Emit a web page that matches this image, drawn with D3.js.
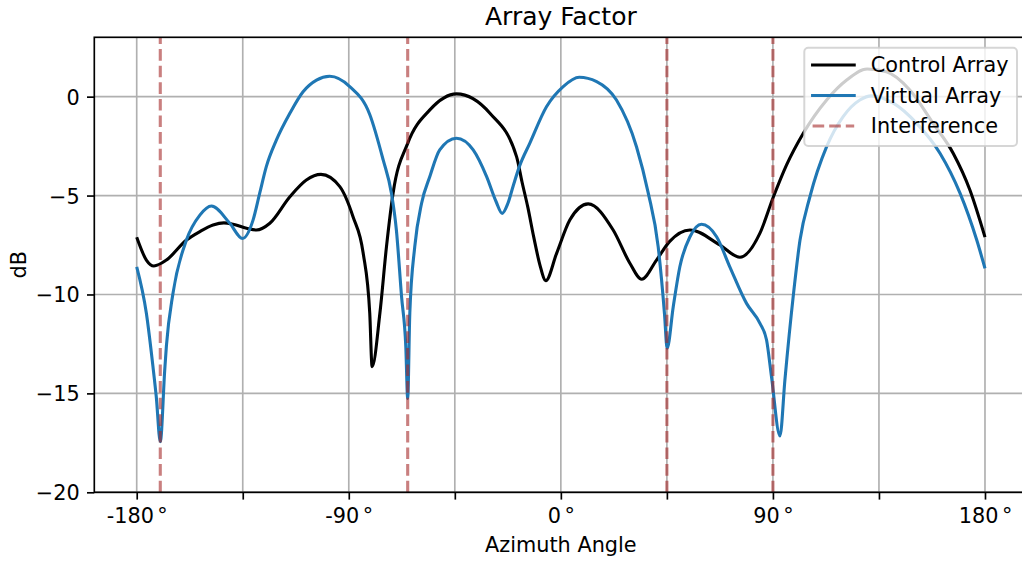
<!DOCTYPE html>
<html>
<head>
<meta charset="utf-8">
<script src="https://cdn.jsdelivr.net/npm/d3@7"></script>
<style>
  body { margin: 0; background: #fff; }
  svg { display: block; }
  text { font-family: "DejaVu Sans", sans-serif; fill: #000; }
</style>
</head>
<body>
<svg id="chart" width="1022" height="561"></svg>
<script>
// Control array pattern (azimuth in degrees, gain in dB)
const controlAngles = [-180, -175.9, -172.7, -167.4, -158.9, -153.2, -147.6, -143.0, -139.1, -133.4,
  -129.2, -123.5, -115.0, -108.0, -101.8, -93.8, -88.2, -83.9, -81.1, -80.1,
  -76.8, -74.0, -71.2, -65.0, -55.6, -44.3, -30.1, -18.8, -16.5, -14.0,
  -11.5, -8.9, -6.4, -1.8, 3.8, 11.6, 22.2, 29.3, 34.3, 40.6,
  46.1, 54.8, 67.5, 76.0, 84.5, 90.1, 95.8, 102.9, 112.8, 121.3,
  130.0, 138.2, 148.1, 158.0, 166.5, 173.6, 180];
const controlDb = [-7.11, -8.26, -8.56, -8.26, -7.25, -6.82, -6.49, -6.38, -6.45, -6.65,
  -6.74, -6.4, -5.06, -4.21, -3.93, -4.55, -6.07, -7.9, -10.95, -13.65,
  -10.95, -7.58, -4.88, -2.36, -0.67, 0.14, -0.84, -3.03, -4.3, -5.6,
  -7.1, -8.5, -9.3, -7.92, -6.24, -5.42, -6.74, -8.42, -9.23, -8.26,
  -7.33, -6.74, -7.5, -8.12, -6.9, -5.1, -3.45, -1.85, -0.17, 0.84,
  1.4, 1.26, 0.34, -1.35, -2.86, -4.72, -7.1];

// Virtual array pattern
const virtualAngles = [-180, -175.9, -173.1, -171.7, -170.0, -168.1, -167.4, -164.6, -158.9, -153.2,
  -148.3, -140.5, -135.1, -130.6, -127.8, -125.0, -120.7, -115.0, -109.4, -103.7,
  -98.1, -89.6, -81.1, -75.4, -71.9, -69.8, -67.6, -65.8, -65.0, -64.1,
  -62.0, -59.1, -55.6, -51.4, -44.3, -37.2, -31.5, -27.5, -24.9, -22.5,
  -20.2, -17.5, -13.2, -6.1, 1.0, 7.8, 15.2, 23.6, 32.1, 37.1,
  41.3, 44.0, 45.1, 47.7, 50.5, 54.8, 59.7, 66.1, 71.7, 78.8,
  84.5, 87.3, 89.4, 93.0, 95.1, 98.6, 101.5, 105.7, 112.8, 119.8,
  126.9, 131.9, 141.1, 151.0, 160.9, 169.4, 176.5, 180];
const virtualDb = [-8.6, -10.95, -13.65, -15.17, -17.44, -13.8, -12.6, -9.94, -7.25, -5.99,
  -5.53, -6.4, -7.17, -6.23, -4.88, -3.54, -2.19, -0.84, 0.25, 0.84,
  1.03, 0.51, -0.9, -3.2, -4.88, -6.74, -10.11, -12.64, -15.25, -10.95,
  -7.58, -5.39, -4.04, -2.69, -2.1, -2.69, -4.04, -5.3, -5.9, -5.4,
  -4.5, -3.5, -2.36, -0.51, 0.51, 0.98, 0.76, -0.17, -2.53, -4.88,
  -7.58, -11.0, -12.72, -10.62, -8.6, -7.08, -6.45, -7.08, -8.6, -10.45,
  -11.46, -12.3, -14.16, -17.15, -14.3, -10.11, -7.25, -5.06, -2.53, -1.01,
  -0.17, 0.04, -0.33, -1.35, -2.86, -4.88, -7.25, -8.68];

// Interference directions (degrees)
const interferenceAngles = [-170, -65, 45, 90];

// Axis ticks
const xGridTicks = [-180, -135, -90, -45, 0, 45, 90, 135, 180];
const xTickLabels = ["-180", "", "-90", "", "0", "", "90", "", "180"];
const yTicks = [-20, -15, -10, -5, 0];

const FS = 20.8;        // tick / label / legend font size
const LW = 3.1;         // data line width
const THIN = 1.67;      // spines, ticks and grid

const svg = d3.select("#chart");
const plot = { left: 94.3, right: 1027.4, top: 37.3, bottom: 492.3 };

const x = d3.scaleLinear().domain([-198, 198]).range([plot.left, plot.right]);
const y = d3.scaleLinear().domain([-20, 3]).range([plot.bottom, plot.top]);

svg.append("rect").attr("width", 1022).attr("height", 561).attr("fill", "#fff");

svg.append("defs").append("clipPath").attr("id", "plotClip")
  .append("rect")
  .attr("x", plot.left).attr("y", plot.top)
  .attr("width", plot.right - plot.left).attr("height", plot.bottom - plot.top);

// Grid
const grid = svg.append("g").attr("stroke", "#b0b0b0").attr("stroke-width", THIN);
grid.selectAll("line.vx").data(xGridTicks).join("line")
  .attr("x1", d => x(d)).attr("x2", d => x(d))
  .attr("y1", plot.top).attr("y2", plot.bottom);
grid.selectAll("line.hy").data(yTicks).join("line")
  .attr("x1", plot.left).attr("x2", plot.right)
  .attr("y1", d => y(d)).attr("y2", d => y(d));

// Curves
const lineGen = d3.line().curve(d3.curveMonotoneX);
const curves = svg.append("g").attr("clip-path", "url(#plotClip)");

const controlPts = controlAngles.map((a, i) => [x(a), y(controlDb[i])]);
const virtualPts = virtualAngles.map((a, i) => [x(a), y(virtualDb[i])]);

curves.append("path").attr("d", lineGen(controlPts))
  .attr("fill", "none").attr("stroke", "#000000").attr("stroke-width", LW)
  .attr("stroke-linejoin", "round");
curves.append("path").attr("d", lineGen(virtualPts))
  .attr("fill", "none").attr("stroke", "#1f77b4").attr("stroke-width", LW)
  .attr("stroke-linejoin", "round");

const DASH = "11.6,5";
curves.selectAll("line.interf").data(interferenceAngles).join("line")
  .attr("x1", d => x(d)).attr("x2", d => x(d))
  .attr("y1", plot.bottom).attr("y2", plot.top)
  .attr("stroke", "brown").attr("stroke-opacity", 0.6)
  .attr("stroke-width", LW).attr("stroke-dasharray", DASH);

// Axes
const xAxis = d3.axisBottom(x)
  .tickValues(xGridTicks)
  .tickSize(7.3).tickSizeOuter(0).tickPadding(8.9)
  .tickFormat((d, i) => xTickLabels[i]);
const gx = svg.append("g").attr("transform", `translate(0,${plot.bottom})`).call(xAxis);
gx.select(".domain").remove();
gx.selectAll(".tick line").attr("stroke", "#000").attr("stroke-width", THIN);
gx.selectAll(".tick text")
  .attr("font-size", FS)
  .attr("font-family", "DejaVu Sans, sans-serif")
  .each(function (d, i) {
    const label = xTickLabels[i];
    const t = d3.select(this).text(null);
    if (!label) return;
    t.append("tspan").text(label);
    t.append("tspan").attr("dx", 3.5).text("°");
  });

const yAxis = d3.axisLeft(y)
  .tickValues(yTicks)
  .tickSize(7.3).tickSizeOuter(0).tickPadding(7.3)
  .tickFormat(d => d < 0 ? "\u2212" + Math.abs(d) : String(d));
const gy = svg.append("g").attr("transform", `translate(${plot.left},0)`).call(yAxis);
gy.select(".domain").remove();
gy.selectAll(".tick line").attr("stroke", "#000").attr("stroke-width", THIN);
gy.selectAll(".tick text")
  .attr("font-size", FS)
  .attr("font-family", "DejaVu Sans, sans-serif")
  .attr("dy", "0.36em");

// Spines
svg.append("rect")
  .attr("x", plot.left).attr("y", plot.top)
  .attr("width", plot.right - plot.left).attr("height", plot.bottom - plot.top)
  .attr("fill", "none").attr("stroke", "#000").attr("stroke-width", THIN);

// Titles
svg.append("text")
  .attr("x", (plot.left + plot.right) / 2).attr("y", 25)
  .attr("text-anchor", "middle").attr("font-size", 25)
  .text("Array Factor");
svg.append("text")
  .attr("x", (plot.left + plot.right) / 2).attr("y", 551.7)
  .attr("text-anchor", "middle").attr("font-size", FS)
  .text("Azimuth Angle");
svg.append("text")
  .attr("transform", `translate(25.5,${(plot.top + plot.bottom) / 2}) rotate(-90)`)
  .attr("text-anchor", "middle").attr("font-size", FS)
  .text("dB");

// Legend
const legendItems = [
  { label: "Control Array", color: "#000000", opacity: 1, dash: null },
  { label: "Virtual Array", color: "#1f77b4", opacity: 1, dash: null },
  { label: "Interference", color: "brown", opacity: 0.6, dash: DASH }
];
const legend = svg.append("g");
legend.append("rect")
  .attr("x", 804.3).attr("y", 47.8)
  .attr("width", 1017.0 - 804.3).attr("height", 146 - 47.8)
  .attr("rx", 4).attr("ry", 4)
  .attr("fill", "#fff").attr("fill-opacity", 0.8)
  .attr("stroke", "#cccccc").attr("stroke-opacity", 0.8).attr("stroke-width", 2);
const rowY = d3.scaleLinear().domain([0, 2]).range([65, 126]);
const rows = legend.selectAll("g.row").data(legendItems).join("g")
  .attr("transform", (d, i) => `translate(0,${rowY(i)})`);
rows.append("line")
  .attr("x1", 812.6).attr("x2", 854.2).attr("y1", 0).attr("y2", 0)
  .attr("stroke", d => d.color).attr("stroke-opacity", d => d.opacity)
  .attr("stroke-width", LW)
  .attr("stroke-linecap", d => d.dash ? "butt" : "square")
  .attr("stroke-dasharray", d => d.dash);
rows.append("text")
  .attr("x", 870.8).attr("y", 7.3)
  .attr("font-size", FS)
  .text(d => d.label);
</script>
</body>
</html>
